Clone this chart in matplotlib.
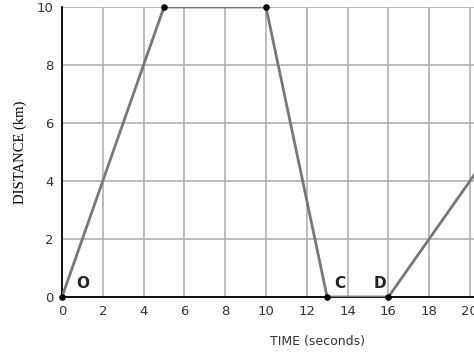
import matplotlib
matplotlib.use("Agg")
import matplotlib.pyplot as plt

# Dados do gráfico distância x tempo
time_s = [0, 5, 10, 13, 16, 21]
distance_km = [0, 10, 10, 0, 0, 5]
marker_time = [0, 5, 10, 13, 16]
marker_dist = [0, 10, 10, 0, 0]
point_labels = ['O', 'C', 'D']
label_time = [1.0, 13.6, 15.6]
label_dist = [0.45, 0.45, 0.45]
x_ticks = list(range(0, 22, 2))
y_ticks = list(range(0, 12, 2))

fig = plt.figure(figsize=(4.74, 3.56), dpi=100)
ax = fig.add_axes([62 / 474, 59 / 356, 1 - 62 / 474, 290 / 356])

ax.plot(time_s, distance_km, color='#777777', linewidth=2, zorder=3, clip_on=True)
ax.scatter(marker_time, marker_dist, color='black', s=14, zorder=4, clip_on=False)

for lab, tx, dy in zip(point_labels, label_time, label_dist):
    ax.text(tx, dy, lab, fontsize=11, fontweight='bold', ha='center', va='center',
            family='DejaVu Sans', color='#222222')

ax.set_xlim(0, 20.2)
ax.set_ylim(0, 10)
ax.set_xticks(x_ticks)
ax.set_yticks(y_ticks)
ax.grid(True, color='#b0b0b0', linewidth=1.2)
ax.set_axisbelow(True)
ax.tick_params(length=0, labelsize=9.5, colors='#333333', pad=6)

for s in ['top', 'right']:
    ax.spines[s].set_visible(False)
for s in ['left', 'bottom']:
    ax.spines[s].set_color('black')
    ax.spines[s].set_linewidth(1.3)

ax.set_ylabel('DISTANCE (km)', family='Liberation Serif', fontsize=10.5, labelpad=14)
ax.yaxis.set_label_coords(-0.085, 0.5)
fig.text(318 / 474, 1 - 341 / 356, 'TIME (seconds)', ha='center', va='center',
         fontsize=9, color='#333333')

fig.savefig('out.png', dpi=100)
